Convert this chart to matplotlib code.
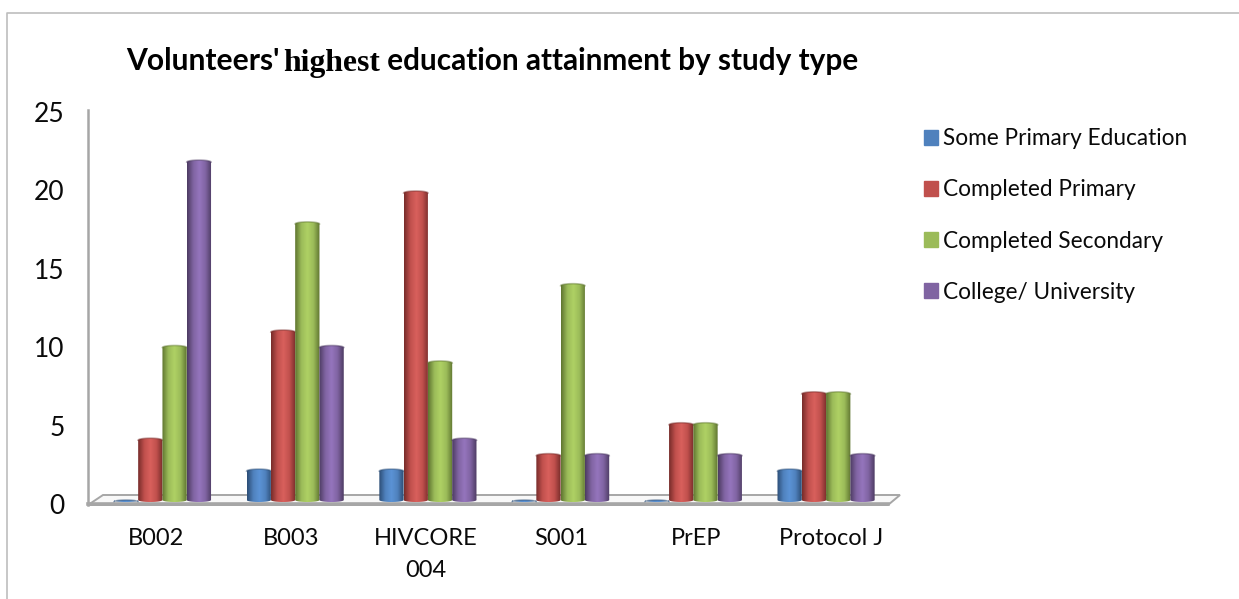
import matplotlib
matplotlib.use('Agg')
import matplotlib.pyplot as plt
import numpy as np
from matplotlib.colors import LinearSegmentedColormap
from matplotlib.lines import Line2D
from matplotlib.patches import Polygon

categories = ['B002', 'B003', 'HIVCORE\n004', 'S001', 'PrEP', 'Protocol J']
series_names = ['Some Primary Education', 'Completed Primary', 'Completed Secondary', 'College/ University']
some_primary = [0, 2, 2, 0, 0, 2]
completed_primary = [4, 11, 20, 3, 5, 7]
completed_secondary = [10, 18, 9, 14, 5, 7]
college = [22, 10, 4, 3, 3, 3]
y_ticks = [0, 5, 10, 15, 20, 25]
colors = ['#4F81BD', '#C0504D', '#9BBB59', '#8064A2']
dark_colors = ['#2C4D75', '#772C2A', '#5F7530', '#4D3B62']
light_colors = ['#5B93D6', '#D9605C', '#AFD164', '#9575BD']

W, H = 1239, 599
GREY = '#A6A6A6'
plt.rcParams['font.family'] = ['Lato', 'DejaVu Sans']


def px(x, y):
    return x / W, 1 - y / H


fig = plt.figure(figsize=(W / 100, H / 100), dpi=100)
ax = fig.add_axes([88 / W, 1 - 505 / H, (900 - 88) / W, (505 - 110) / H])
ax.patch.set_alpha(0)

# outer chart border, only top and left show in the crop
fig.add_artist(Line2D([7 / W, 7 / W, 1], [0, 1 - 13 / H, 1 - 13 / H], color='#BEBEBE', lw=1.2))

# floor and wall of the fake 3d box
floor = Polygon([px(88, 505), px(103, 495), px(900, 495), px(888, 505)], closed=True,
                facecolor='#F8F8F8', edgecolor=GREY, lw=1.4, transform=fig.transFigure, zorder=1)
ax.add_patch(floor)
floor.set_clip_on(False)
fig.add_artist(Line2D([88 / W, 88 / W], [1 - 505 / H, 1 - 110 / H], color=GREY, lw=1.8))
fig.add_artist(Line2D([88 / W, 888 / W], [1 - 504 / H, 1 - 504 / H], color=GREY, lw=2.6))

x = np.arange(len(categories))
bar_w = 0.183
cap_h = 0.13
all_series = [some_primary, completed_primary, completed_secondary, college]
theta = np.linspace(0, np.pi, 30)

for i, vals in enumerate(all_series):
    cmap = LinearSegmentedColormap.from_list('cyl' + str(i), [dark_colors[i], colors[i], light_colors[i], colors[i], dark_colors[i]])
    grad = np.linspace(0, 1, 64).reshape(1, -1)
    bars = ax.bar(x + (i - 1.5) * bar_w, vals, bar_w, color=colors[i], label=series_names[i], zorder=3 + i, lw=0)
    for b in bars:
        left, w, top = b.get_x(), b.get_width(), b.get_height()
        b.set_visible(False)
        xs_top = left + w / 2 - np.cos(theta) * w / 2
        xs_bot = left + w / 2 + np.cos(theta) * w / 2
        # cap stays just under the value, so the rounded top ends where the bar reads
        ys_top = top - cap_h + np.sin(theta) * cap_h
        ys_bot = -np.sin(theta) * cap_h
        outline = Polygon(np.column_stack([np.r_[xs_top, xs_bot], np.r_[ys_top, ys_bot]]), closed=True,
                          transform=ax.transData, fill=False, lw=0)
        ax.add_patch(outline)
        im = ax.imshow(grad, extent=[left, left + w, -cap_h, top + cap_h], aspect='auto', cmap=cmap,
                       zorder=3 + i, interpolation='bilinear')
        im.set_clip_path(outline)
        # soft rim on top of the cylinder
        ax.plot(xs_top, ys_top, color=dark_colors[i], lw=1.2, zorder=3.5 + i, alpha=0.45)

ax.set_xlim(-0.561, 5.557)
ax.set_ylim(-5 / 15.45, 390 / 15.45)
ax.set_xticks([])
ax.set_yticks([])
for s in ax.spines.values():
    s.set_visible(False)

# labels sit on the front of the box, so their scales differ a little from the bars
lab = ax.twinx()
lab.patch.set_alpha(0)
lab.set_ylim(-1 / 15.68, 394 / 15.68)
lab.yaxis.tick_left()
lab.set_yticks(y_ticks)
lab.tick_params(axis='y', length=0, pad=17, labelsize=19, labelcolor='#0A0A0A')
for s in lab.spines.values():
    s.set_visible(False)

lab_x = ax.twiny()
lab_x.patch.set_alpha(0)
lab_x.set_xlim((88 - 156) / 135, (900 - 156) / 135)
lab_x.xaxis.tick_bottom()
lab_x.set_xticks(x)
lab_x.set_xticklabels(categories, fontsize=17, linespacing=1.65, color='#0A0A0A')
lab_x.tick_params(axis='x', length=0, pad=16.3)
for s in lab_x.spines.values():
    s.set_visible(False)

handles = [plt.Rectangle((0, 0), 1, 1, color=c) for c in colors]
fig.legend(handles, series_names, loc='upper left', bbox_to_anchor=px(904, 108), frameon=False, fontsize=16.3,
           labelspacing=1.33, handlelength=0.62, handleheight=0.62, handletextpad=0.22, labelcolor='#0A0A0A')

# title mixes fonts, "highest" falls back to a serif
t1 = fig.text(*px(126, 70), "Volunteers'", fontsize=21.6, fontweight='bold', color='black')
t2 = ax.annotate('highest', xy=(1, 0), xycoords=t1, xytext=(3, -2), textcoords='offset points', fontsize=22.8,
                 fontweight='bold', color='black', family='Liberation Serif', va='bottom')
t3 = ax.annotate(' education attainment by study type', xy=(1, 0), xycoords=(t2, t1), fontsize=21.4, fontweight='bold',
                 color='black', va='bottom')

fig.savefig('out.png', dpi=100)
